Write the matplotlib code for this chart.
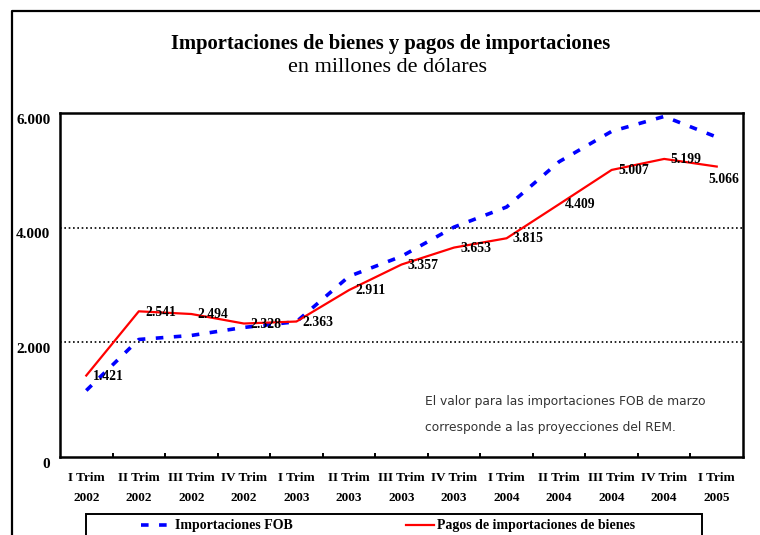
import matplotlib
matplotlib.use("Agg")
import matplotlib.pyplot as plt
import matplotlib.transforms as mtransforms
from matplotlib.lines import Line2D
from matplotlib.patches import Rectangle
from matplotlib.ticker import FuncFormatter, FixedLocator

# datos del grafico
trimestres = ["I Trim\n2002", "II Trim\n2002", "III Trim\n2002", "IV Trim\n2002",
              "I Trim\n2003", "II Trim\n2003", "III Trim\n2003", "IV Trim\n2003",
              "I Trim\n2004", "II Trim\n2004", "III Trim\n2004", "IV Trim\n2004",
              "I Trim\n2005"]
importaciones_fob = [1160, 2050, 2120, 2260, 2360, 3150, 3500, 4010, 4360, 5150, 5680, 5940, 5580]
pagos_importaciones = [1421, 2541, 2494, 2328, 2363, 2911, 3357, 3653, 3815, 4409, 5007, 5199, 5066]
y_ticks = [0, 2000, 4000, 6000]

SERIF = "Liberation Serif"
W, H = 760, 535


def fx(px):
    return px / W


def fy(py):
    return 1 - py / H


def miles(v, pos=None):
    return "{:,}".format(int(v)).replace(",", ".")


fig = plt.figure(figsize=(7.6, 5.35), dpi=100)
ax = fig.add_axes([fx(60), fy(457), fx(743) - fx(60), fy(113) - fy(457)])

x = list(range(len(trimestres)))
ax.plot(x, importaciones_fob, color="#0000FF", lw=2.6, dashes=(2.1, 2.9),
        dash_capstyle="butt", zorder=3)
ax.plot(x, pagos_importaciones, color="#FF0000", lw=1.6, zorder=4)

for i, v in enumerate(pagos_importaciones):
    if i == len(pagos_importaciones) - 1:
        off = (-6, -9)
    else:
        off = (4.5, -0.5)
    ax.annotate(miles(v), (i, v), xytext=off, textcoords="offset points",
                ha="left", va="center", fontsize=9.8, fontweight="bold",
                family=SERIF, color="black", zorder=5)

ax.set_xlim(-0.5, len(trimestres) - 0.5)
ax.set_ylim(0, 6000)

# grilla punteada
for yv in y_ticks[1:-1]:
    ax.axhline(yv, color="black", lw=1.2, ls=(0, (1, 1.6)), zorder=1)

ax.set_yticks(y_ticks)
ax.yaxis.set_major_formatter(FuncFormatter(miles))
ax.tick_params(axis="y", length=0, pad=7)
for lab in ax.get_yticklabels():
    lab.set_fontfamily(SERIF)
    lab.set_fontweight("bold")
    lab.set_fontsize(11)
    lab.set_transform(lab.get_transform() +
                      mtransforms.ScaledTranslation(0, -4 / 72, fig.dpi_scale_trans))

ax.set_xticks(x)
ax.set_xticklabels(trimestres, fontsize=9.5, fontweight="bold", family=SERIF,
                   linespacing=1.85)
ax.tick_params(axis="x", which="major", length=0, pad=11)
ax.xaxis.set_minor_locator(FixedLocator([i + 0.5 for i in x[:-1]]))
ax.tick_params(axis="x", which="minor", direction="in", length=3, width=1.4,
               color="black")

for s in ["left", "bottom", "right", "top"]:
    ax.spines[s].set_linewidth(1.8)
    ax.spines[s].set_color("black")

# nota
fig.text(fx(425), fy(402), "El valor para las importaciones FOB de marzo",
         fontsize=8.8, family="DejaVu Sans", color="#333333", va="center", ha="left")
fig.text(fx(425), fy(427), "corresponde a las proyecciones del REM.",
         fontsize=8.8, family="DejaVu Sans", color="#333333", va="center", ha="left")

# titulos
fig.text(fx(391), fy(44), "Importaciones de bienes y pagos de importaciones",
         fontsize=14.9, fontweight="bold", family=SERIF, ha="center", va="center")
fig.text(fx(387), fy(68), "en millones de dólares",
         fontsize=16, family=SERIF, ha="center", va="center")

# marco exterior
fig.add_artist(Line2D([fx(12), fx(12), 1.0], [0.0, fy(11), fy(11)],
                      transform=fig.transFigure, color="black", lw=1.6))

# leyenda
fig.add_artist(Rectangle((fx(86), fy(560)), fx(702) - fx(86), fy(514) - fy(560),
                         transform=fig.transFigure, fill=False, ec="black", lw=1.4))
fig.add_artist(Line2D([fx(141), fx(168)], [fy(525), fy(525)], transform=fig.transFigure,
                      color="#0000FF", lw=2.6, dashes=(2.1, 2.9), dash_capstyle="butt"))
fig.text(fx(175), fy(525), "Importaciones FOB", fontsize=10, fontweight="bold",
         family=SERIF, ha="left", va="center")
fig.add_artist(Line2D([fx(406), fx(434)], [fy(525), fy(525)], transform=fig.transFigure,
                      color="#FF0000", lw=1.6))
fig.text(fx(437), fy(525), "Pagos de importaciones de bienes", fontsize=10,
         fontweight="bold", family=SERIF, ha="left", va="center")

fig.savefig("out.png", dpi=100)
